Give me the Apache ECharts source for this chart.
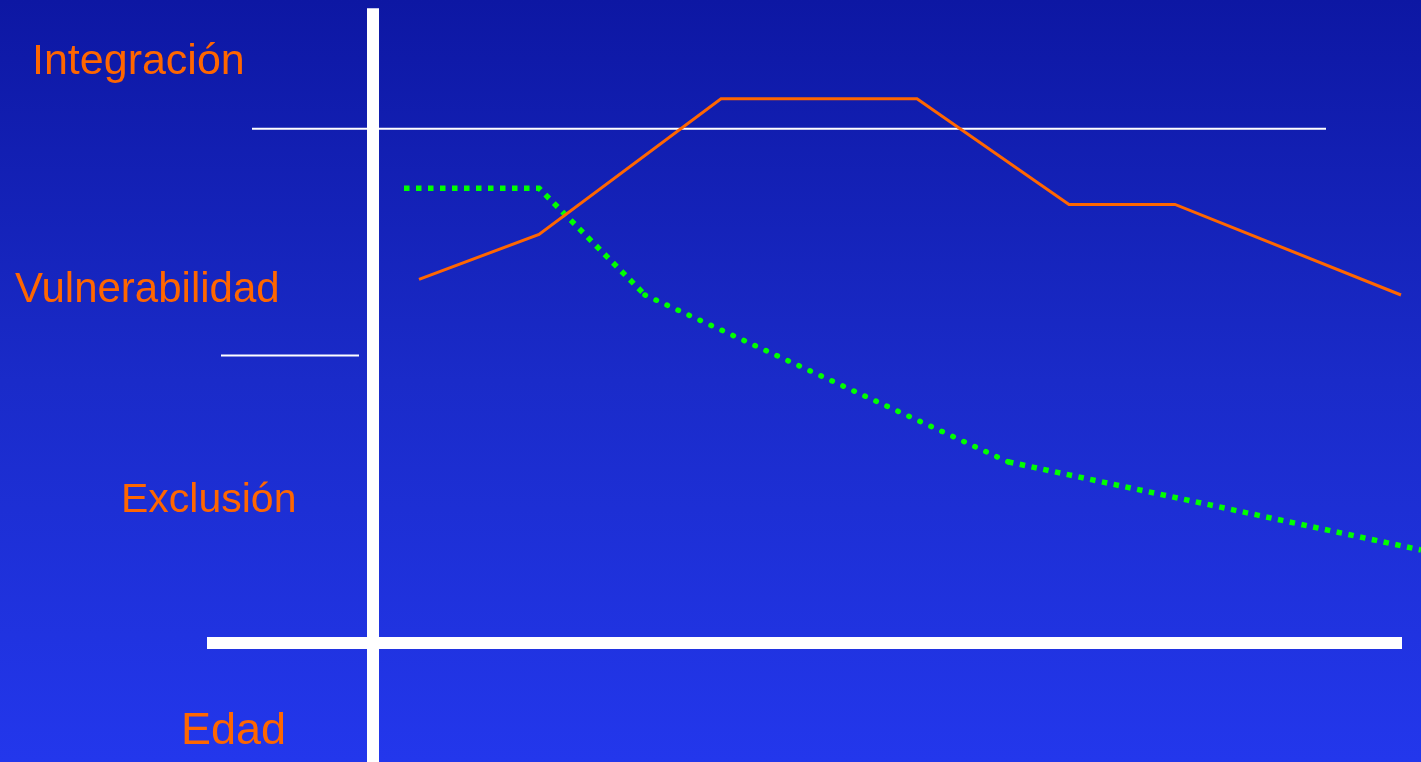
<!DOCTYPE html>
<html>
<head>
<meta charset="utf-8">
<script src="https://cdn.jsdelivr.net/npm/echarts@6/dist/echarts.min.js"></script>
<style>
html,body{margin:0;padding:0;width:100%;height:100%;overflow:hidden;}
#chart{width:1421px;height:762px;background:linear-gradient(to bottom,#0d17a3 0%,#1a2bc9 50%,#2337ec 100%);}
</style>
</head>
<body>
<div id="chart"></div>
<script>
// Abstract units: x = "Edad", y = level (Exclusión -> Integración)
var integracionX = [4.6, 16.6, 34.8, 54.4, 69.6, 80.2, 102.8];
var integracionY = [60.6, 68.1, 90.7, 90.7, 73.1, 73.1, 58.0];

var greenSeg1X = [3.1, 16.6, 27.2];
var greenSeg1Y = [75.8, 75.8, 58.0];
var greenSeg2X = [27.2, 63.5];
var greenSeg2Y = [58.0, 30.2];
var greenSeg3X = [63.5, 104.8];
var greenSeg3Y = [30.2, 15.5];

// level boundaries and axes
var axisYX = [0, 0];
var axisYY = [105.8, -19.9];
var axisXX = [-16.6, 102.9];
var axisXY = [0, 0];
var limitTopX = [-12.1, 95.3];
var limitTopY = [85.7, 85.7];
var limitLowX = [-15.2, -1.4];
var limitLowY = [47.9, 47.9];

var levelLabels = ['Integración', 'Vulnerabilidad', 'Exclusión'];
var axisLabel = 'Edad';

function pairs(xs, ys){ return xs.map(function(x,i){ return [x, ys[i]]; }); }

var chart = echarts.init(document.getElementById('chart'), null, {renderer:'canvas'});
var orange = '#ff6600';
var green = '#00ff00';
var font = '"Liberation Sans", Arial, sans-serif';

function labelText(txt, x, y, size){
  return {type:'text', x:x, y:y, silent:true, z:10,
    style:{text:txt, fill:orange, font:'normal ' + size + 'px ' + font, textAlign:'left', textVerticalAlign:'middle', verticalAlign:'middle'}};
}

chart.setOption({
  backgroundColor:'transparent',
  animation:false,
  grid:{left:0, right:0, top:0, bottom:0},
  xAxis:{type:'value', min:-37.3, max:104.8, show:false},
  yAxis:{type:'value', min:-19.833, max:107.167, show:false},
  series:[
    {type:'line', data:pairs(axisYX, axisYY), symbol:'none', silent:true, lineStyle:{color:'#ffffff', width:12, cap:'butt'}, z:3},
    {type:'line', data:pairs(axisXX, axisXY), symbol:'none', silent:true, lineStyle:{color:'#ffffff', width:12, cap:'butt'}, z:3},
    {type:'line', data:pairs(limitTopX, limitTopY), symbol:'none', silent:true, lineStyle:{color:'#ffffff', width:2, cap:'butt'}, z:2},
    {type:'line', data:pairs(limitLowX, limitLowY), symbol:'none', silent:true, lineStyle:{color:'#ffffff', width:2, cap:'butt'}, z:2},
    {type:'line', data:pairs(greenSeg1X, greenSeg1Y), symbol:'none', silent:true, lineStyle:{color:green, width:5.5, type:[5.5,6.5], cap:'butt', join:'miter'}, z:4},
    {type:'line', data:pairs(greenSeg2X, greenSeg2Y), symbol:'none', silent:true, lineStyle:{color:green, width:5.5, type:[0.5,11.6], cap:'round'}, z:4},
    {type:'line', data:pairs(greenSeg3X, greenSeg3Y), symbol:'none', silent:true, lineStyle:{color:green, width:5.5, type:[5.5,6.5], cap:'butt'}, z:4},
    {type:'line', data:pairs(integracionX, integracionY), symbol:'none', silent:true, lineStyle:{color:orange, width:3, join:'miter'}, z:5}
  ],
  graphic:[
    labelText(levelLabels[0], 32, 62, 43),
    labelText(levelLabels[1], 15, 290, 42),
    labelText(levelLabels[2], 121, 501, 41),
    labelText(axisLabel, 181, 732, 45)
  ]
});
</script>
</body>
</html>
